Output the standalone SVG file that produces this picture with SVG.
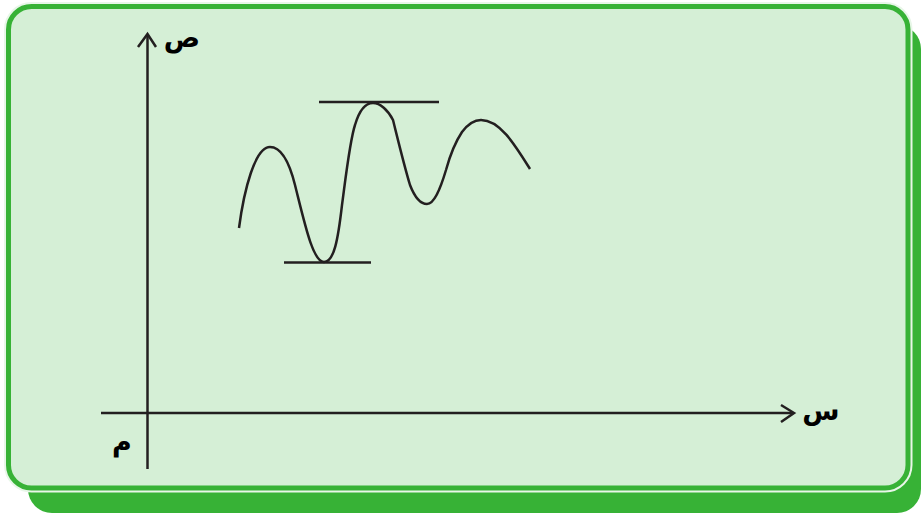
<svg xmlns="http://www.w3.org/2000/svg" width="921" height="514" viewBox="0 0 921 514">
<style>
.ax{stroke:#231f20;stroke-width:2.5;fill:none}
.lbl{font-family:"DejaVu Sans",sans-serif;font-weight:bold;font-size:27px;fill:#000;text-anchor:middle}
</style>
<rect width="921" height="514" fill="#ffffff"/>
<g id="frame">
<rect x="28" y="25" width="893" height="488" rx="24" fill="#37b236"/>
<rect x="7.5" y="5.5" width="901.5" height="483.5" rx="24" fill="none" stroke="#e8f6e8" stroke-width="7"/>
<rect x="8.5" y="6.5" width="899.5" height="481.5" rx="23" fill="#d5efd6" stroke="#37b236" stroke-width="5"/>
</g>
<g id="connectors">
<line class="ax" x1="147.5" y1="34" x2="147.5" y2="469"/>
<polyline class="ax" points="138,47 147.5,34 156,47"/>
<line class="ax" x1="101" y1="413" x2="793" y2="413"/>
<polyline class="ax" points="781,405 794,413 781,422"/>
</g>
<g id="curve">
<path class="ax" d="M239,228 C244,190 255,147 270,147 C282,147 290,165 295,185 C305,225 313,262 324,262 C334,262 338,240 342,205 C346,175 350,140 355,125 C360,108 366,103 373,103 C380,103 388,110 393,120 C398,140 404,165 410,185 C415,198 421,204 427,204 C434,204 440,190 446,170 C452,148 458,138 462,132 C468,124 474,120 481,120 C500,120 515,145 530,169"/>
<line class="ax" x1="319" y1="102" x2="439" y2="102"/>
<line class="ax" x1="284" y1="262.5" x2="371" y2="262.5"/>
</g>
<g id="labels">
<text class="lbl" x="182" y="47">ص</text>
<text class="lbl" x="122" y="451">م</text>
<text class="lbl" x="821" y="420">س</text>
</g>
</svg>
